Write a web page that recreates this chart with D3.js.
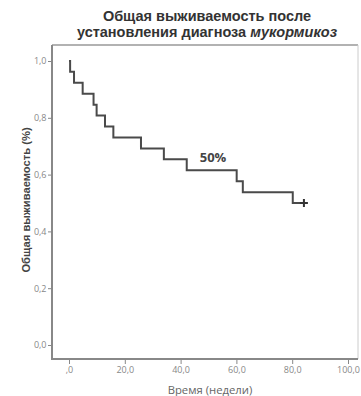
<!DOCTYPE html>
<html><head><meta charset="utf-8">
<script src="https://cdn.jsdelivr.net/npm/d3@7"></script>
<style>html,body{margin:0;padding:0;background:#fff;}svg{display:block;}</style>
</head><body>
<svg id="c" width="361" height="396"></svg>
<script>
const eventTimes = [0, 0.4, 1.8, 4.9, 8.8, 9.9, 12.9, 15.9, 25.8, 34.0, 42.2, 60.1, 62.3, 80.2];
const survival   = [1, 0.962, 0.923, 0.885, 0.846, 0.808, 0.769, 0.731, 0.692, 0.654, 0.615, 0.577, 0.538, 0.5];
const censorTimes = [84.2];
const censorSurv  = [0.5];
const xTicks = [0, 20, 40, 60, 80, 100];
const xTickLabels = [",0", "20,0", "40,0", "60,0", "80,0", "100,0"];
const yTicks = [0, 0.2, 0.4, 0.6, 0.8, 1.0];
const yTickLabels = ["0,0", "0,2", "0,4", "0,6", "0,8", "1,0"];

const svg = d3.select("#c");
const x = d3.scaleLinear().domain([0, 100]).range([69, 348]);
const y = d3.scaleLinear().domain([0, 1]).range([345, 61]);
const frame = {l: 52, t: 45, r: 358, b: 359};

// frame
svg.append("line").attr("x1", frame.l).attr("x2", frame.r).attr("y1", frame.t).attr("y2", frame.t)
  .attr("stroke", "#999").attr("stroke-width", 1.5);
svg.append("line").attr("x1", frame.r).attr("x2", frame.r).attr("y1", frame.t).attr("y2", frame.b)
  .attr("stroke", "#ccc").attr("stroke-width", 1);

// axes
const yAxis = d3.axisLeft(y).tickValues(yTicks).tickSize(4).tickPadding(1.5)
  .tickFormat((d, i) => yTickLabels[i]);
const gy = svg.append("g").attr("transform", `translate(${frame.l},0)`).call(yAxis);
gy.select(".domain").attr("d", `M0,${frame.t}V${frame.b}`).attr("stroke", "#888").attr("stroke-width", 2);
gy.selectAll(".tick line").attr("stroke", "#888");
gy.selectAll(".tick text").attr("fill", "#888").style("font-family", "'Open Sans', sans-serif").style("font-size", "9px");

const xAxis = d3.axisBottom(x).tickValues(xTicks).tickSize(5).tickPadding(3)
  .tickFormat((d, i) => xTickLabels[i]);
const gx = svg.append("g").attr("transform", `translate(0,${frame.b})`).call(xAxis);
gx.select(".domain").attr("d", `M${frame.l - 1},0H${frame.r}`).attr("stroke", "#888").attr("stroke-width", 2);
gx.selectAll(".tick line").attr("stroke", "#888");
gx.selectAll(".tick text").attr("fill", "#888").style("font-family", "'Open Sans', sans-serif").style("font-size", "9px");

// KM curve
const pts = eventTimes.map((t, i) => [t, survival[i]]);
pts.push([censorTimes[0], censorSurv[0]]);
const line = d3.line().x(d => x(d[0])).y(d => y(d[1])).curve(d3.curveStepAfter);
svg.append("path").attr("d", line(pts)).attr("fill", "none").attr("stroke", "#4a4a4a").attr("stroke-width", 2);

// censor marks
censorTimes.forEach((t, i) => {
  const cx = x(t), cy = y(censorSurv[i]);
  svg.append("path").attr("d", `M${cx - 4},${cy}H${cx + 4}M${cx},${cy - 4}V${cy + 4}`)
    .attr("stroke", "#333").attr("stroke-width", 2);
});

// 50% label
svg.append("text").attr("x", 213).attr("y", 161.5).attr("text-anchor", "middle")
  .style("font-family", "'Open Sans', sans-serif").style("font-weight", "bold").style("font-size", "13px")
  .attr("fill", "#444").text("50%");

// title
const title = svg.append("text").attr("text-anchor", "middle")
  .style("font-family", "'Liberation Sans', Arial, sans-serif").style("font-weight", "bold").style("font-size", "14.5px")
  .attr("fill", "#333");
title.append("tspan").attr("x", 207).attr("y", 20.5).text("Общая выживаемость после");
const t2 = title.append("tspan").attr("x", 207).attr("y", 36.5);
t2.text("установления диагноза ");
title.append("tspan").style("font-style", "italic").text("мукормикоз");

// axis titles
svg.append("text").attr("transform", "translate(30,200) rotate(-90)").attr("text-anchor", "middle")
  .style("font-family", "'Liberation Sans', Arial, sans-serif").style("font-weight", "bold").style("font-size", "11.2px")
  .attr("fill", "#444").text("Общая выживаемость (%)");
svg.append("text").attr("x", 210).attr("y", 394).attr("text-anchor", "middle")
  .style("font-family", "'Open Sans', sans-serif").style("font-size", "11.3px")
  .attr("fill", "#666").text("Время (недели)");
</script>
</body></html>
